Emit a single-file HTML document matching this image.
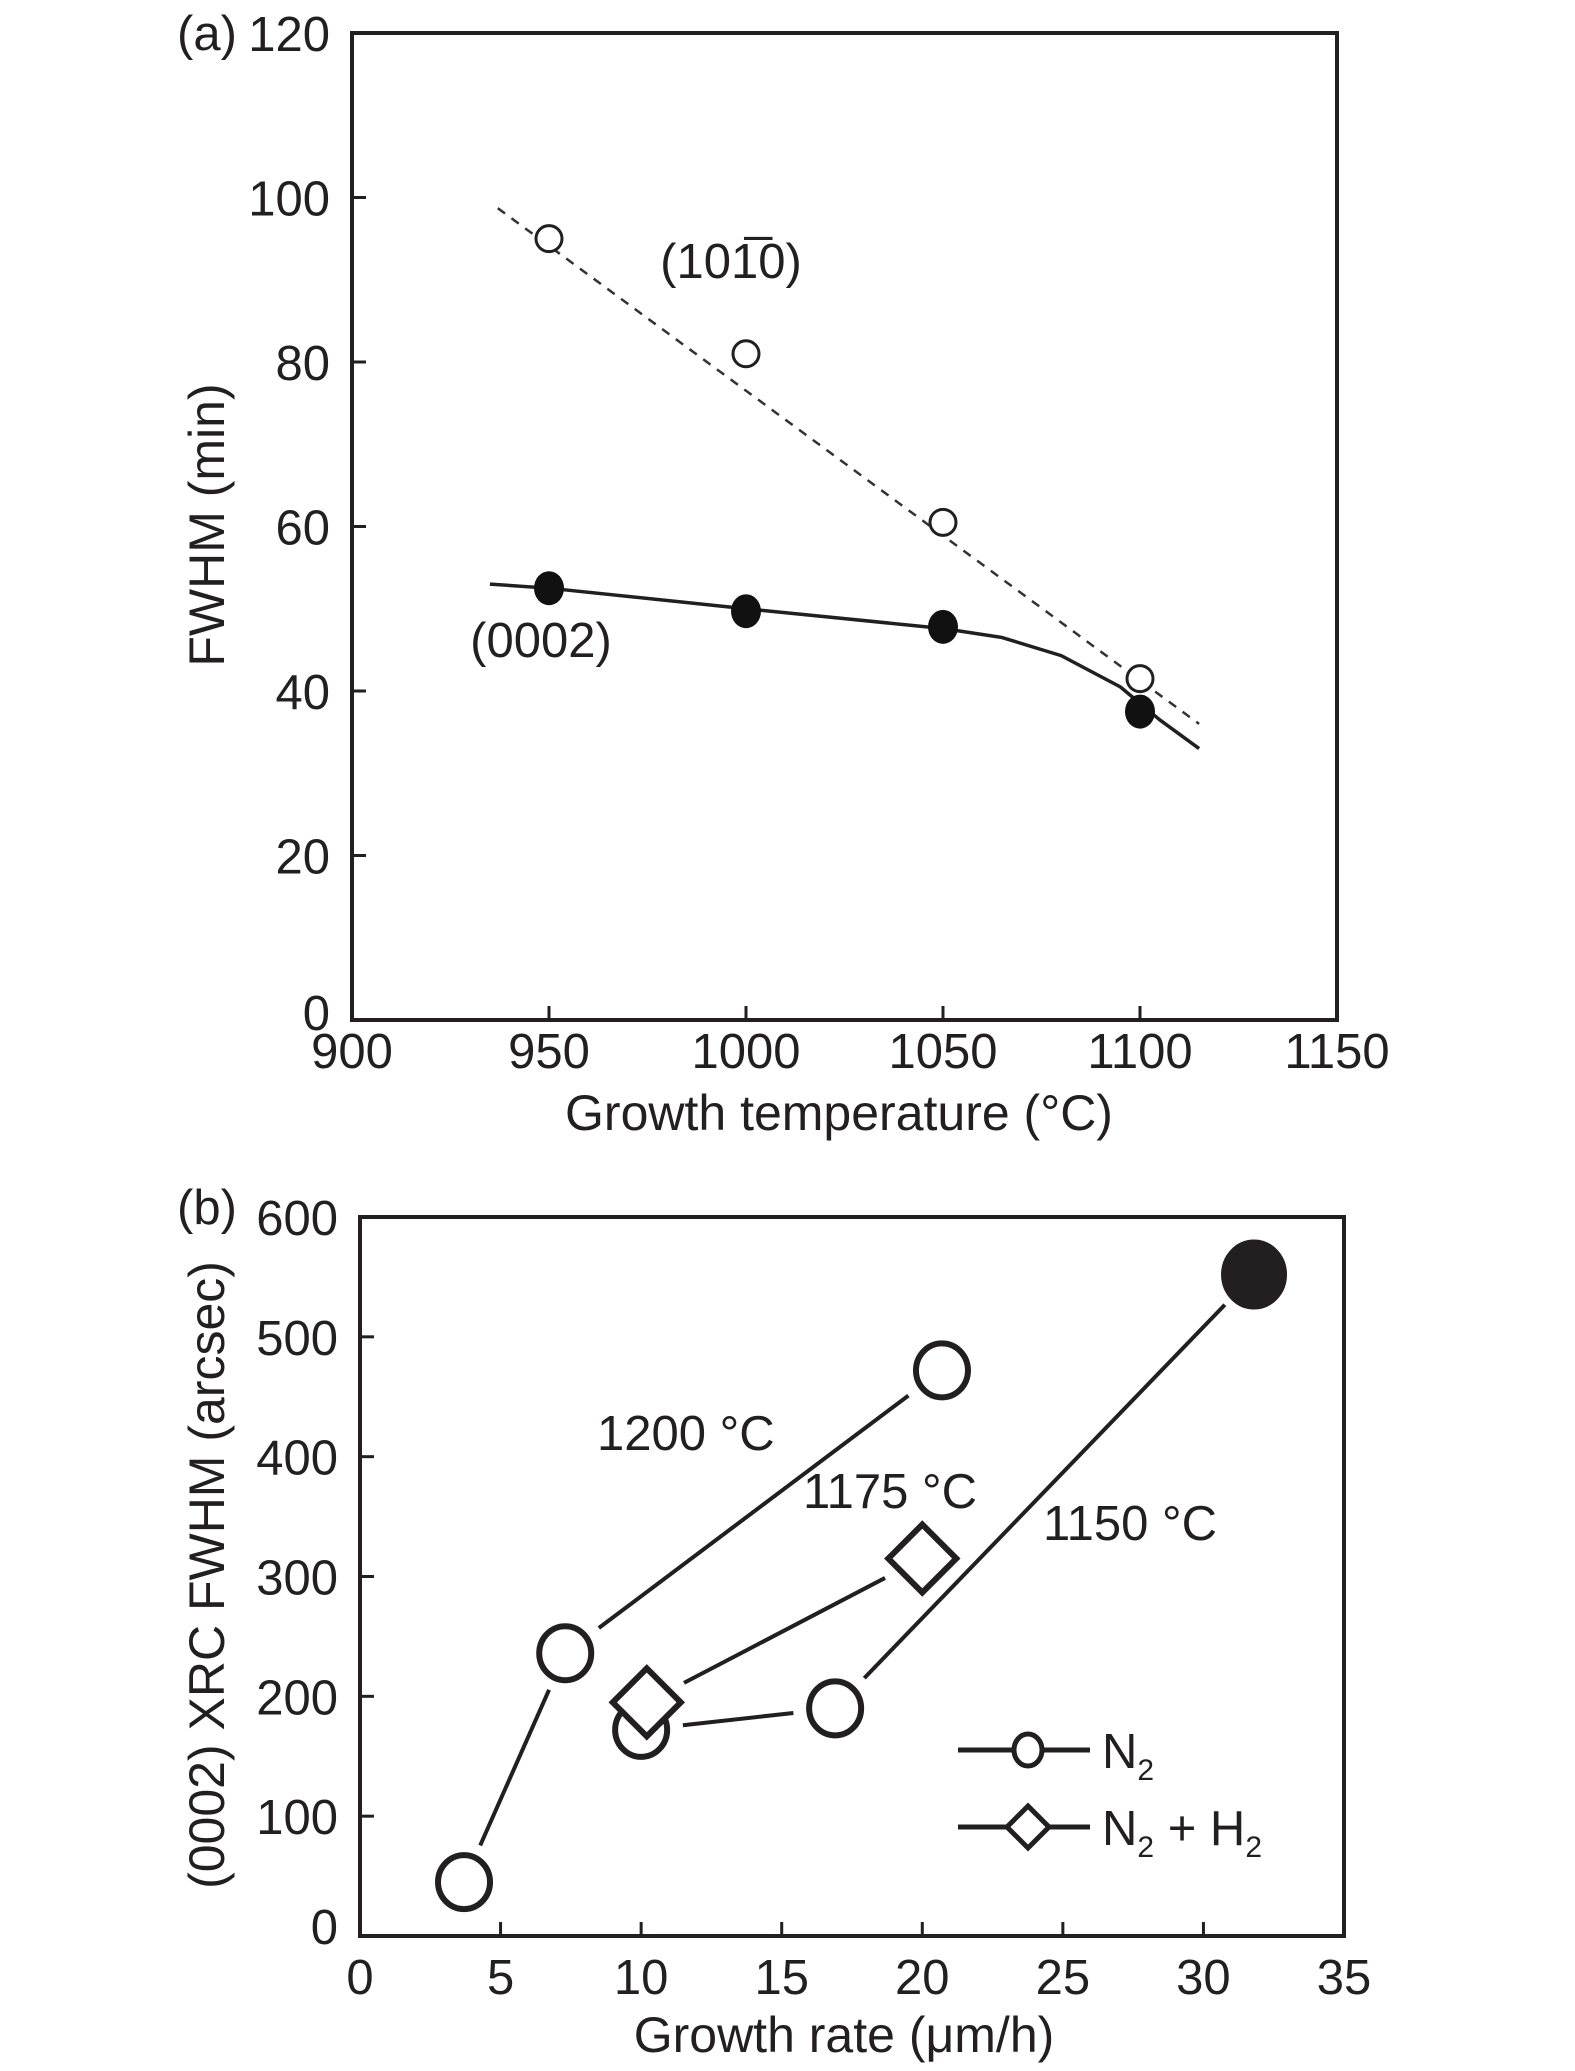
<!DOCTYPE html>
<html><head><meta charset="utf-8"><style>
html,body{margin:0;padding:0;background:#fff;}
svg{display:block;}
text{font-family:"Liberation Sans",sans-serif;fill:#231f20;}
</style></head><body>
<svg id="chart" width="1575" height="2071" viewBox="0 0 1575 2071" xmlns="http://www.w3.org/2000/svg">
<g id="pa"></g>
<g id="pb"></g>
</svg>
<script>
// Panel (a) data
const aXTicks = [900, 950, 1000, 1050, 1100, 1150];
const aYTicks = [0, 20, 40, 60, 80, 100, 120];
const aTemps = [950, 1000, 1050, 1100];
const aOpen = [95, 81, 60.5, 41.5];
const aFilled = [52.5, 49.7, 47.8, 37.5];
const aDashX = [937, 1115];
const aDashY = [98.7, 36];
const aSolidX = [935, 950, 1000, 1050, 1065, 1080, 1095, 1105, 1115];
const aSolidY = [53, 52.5, 50, 47.6, 46.5, 44.3, 40.5, 36.5, 33];
// Panel (b) data
const bXTicks = [0, 5, 10, 15, 20, 25, 30, 35];
const bYTicks = [0, 100, 200, 300, 400, 500, 600];
const bLowX = [3.7, 7.3];
const bLowY = [45, 236];
const b1200X = [7.3, 20.7];
const b1200Y = [236, 472];
const b1150X = [10, 16.9, 31.8];
const b1150Y = [172, 190, 552];
const b1175X = [10.2, 20];
const b1175Y = [195, 315];

const NS = "http://www.w3.org/2000/svg";
function mk(parent, tag, attrs, txt){
  const e = document.createElementNS(NS, tag);
  for (const k in attrs) e.setAttribute(k, attrs[k]);
  if (txt !== undefined) e.textContent = txt;
  parent.appendChild(e);
  return e;
}
// ---------- Panel A ----------
const pa = document.getElementById('pa');
const A = {x0:352, x1:1337, y0:1020, y1:33};
const ax = v => A.x0 + (v-900)/250*(A.x1-A.x0);
const ay = v => A.y0 - v/120*(A.y0-A.y1);
let r = mk(pa,'rect',{x:A.x0,y:A.y1,width:A.x1-A.x0,height:A.y0-A.y1,fill:'none',stroke:'#231f20','stroke-width':4});


aXTicks.forEach(t=>{
  let l = mk(pa,'line',{x1:ax(t),x2:ax(t),y1:A.y0,y2:A.y0-14,stroke:'#231f20','stroke-width':3});
  
  
  let tx = mk(pa,'text',{x:ax(t),y:1068,'font-size':49,'text-anchor':'middle'},String(t));
  
  
});
aYTicks.forEach(t=>{
  let l = mk(pa,'line',{x1:A.x0,x2:A.x0+14,y1:ay(t),y2:ay(t),stroke:'#231f20','stroke-width':3});
  
  
  let tx = mk(pa,'text',{x:330,y:(t===0?ay(t)+10:ay(t)+18),'font-size':49,'text-anchor':'end'},String(t));
  
  
});
let dash = mk(pa,'line',{x1:ax(aDashX[0]),y1:ay(aDashY[0]),x2:ax(aDashX[1]),y2:ay(aDashY[1]),stroke:'#333','stroke-width':2.5,'stroke-dasharray':'9 8'});


let pts = aSolidX.map((x,i)=>ax(x)+','+ay(aSolidY[i])).join(' ');
let sol = mk(pa,'polyline',{points:pts,fill:'none',stroke:'#231f20','stroke-width':3.5,'stroke-linejoin':'round'});


aTemps.forEach((t,i)=>{
  let c = mk(pa,'circle',{cx:ax(t),cy:ay(aOpen[i]),r:13,fill:'#fff',stroke:'#231f20','stroke-width':3});
  
  
  let f = mk(pa,'ellipse',{cx:ax(t),cy:ay(aFilled[i]),rx:15,ry:17,fill:'#111'});
  
  
});
let t1 = mk(pa,'text',{x:731,y:278,'font-size':49,'text-anchor':'middle'},'(101\u03050)');


let t2 = mk(pa,'text',{x:541,y:657,'font-size':49,'text-anchor':'middle'},'(0002)');


let pl = mk(pa,'text',{x:177,y:50,'font-size':49},'(a)');


let yt = mk(pa,'text',{x:0,y:0,'font-size':50,'text-anchor':'middle',transform:'translate(224,525) rotate(-90)'},'FWHM (min)');


let xt = mk(pa,'text',{x:839,y:1130,'font-size':50,'text-anchor':'middle'},'Growth temperature (\u00b0C)');



// ---------- Panel B ----------
const pb = document.getElementById('pb');
const B = {x0:360, x1:1344, y0:1936, y1:1217};
const bx = v => B.x0 + v/35*(B.x1-B.x0);
const by = v => B.y0 - v/600*(B.y0-B.y1);
r = mk(pb,'rect',{x:B.x0,y:B.y1,width:B.x1-B.x0,height:B.y0-B.y1,fill:'none',stroke:'#231f20','stroke-width':4});


bXTicks.forEach(t=>{
  let l = mk(pb,'line',{x1:bx(t),x2:bx(t),y1:B.y0,y2:B.y0-14,stroke:'#231f20','stroke-width':3});
  
  
  let tx = mk(pb,'text',{x:bx(t),y:1994,'font-size':49,'text-anchor':'middle'},String(t));
  
  
});
bYTicks.forEach(t=>{
  let l = mk(pb,'line',{x1:B.x0,x2:B.x0+14,y1:by(t),y2:by(t),stroke:'#231f20','stroke-width':3});
  
  
  let tx = mk(pb,'text',{x:338,y:(t===0?by(t)+8:by(t)+18),'font-size':49,'text-anchor':'end'},String(t));
  
  
});
function gapLine(xs, ys, name, g1, g2){
  for(let i=0;i<xs.length-1;i++){
    const X1=bx(xs[i]),Y1=by(ys[i]),X2=bx(xs[i+1]),Y2=by(ys[i+1]);
    const d=Math.hypot(X2-X1,Y2-Y1), ux=(X2-X1)/d, uy=(Y2-Y1)/d;
    let l = mk(pb,'line',{x1:X1+ux*g1,y1:Y1+uy*g1,x2:X2-ux*g2,y2:Y2-uy*g2,stroke:'#231f20','stroke-width':4});
    
    
  }
}
gapLine(bLowX,bLowY,'line-low',40,40);
gapLine(b1200X,b1200Y,'line-1200',42,42);
gapLine(b1150X,b1150Y,'line-1150',42,42);
gapLine(b1175X,b1175Y,'line-1175',42,42);
function circ(x,y,name,filled){
  let c = mk(pb,'ellipse',{cx:bx(x),cy:by(y),rx:filled?30:26,ry:filled?32:27,fill:filled?'#231f20':'none',stroke:'#231f20','stroke-width':6});
  
  
}
function diam(cx,cy,name,s){
  let p = mk(pb,'polygon',{points:`${cx},${cy-s} ${cx+s},${cy} ${cx},${cy+s} ${cx-s},${cy}`,fill:'#fff',stroke:'#231f20','stroke-width':6,'stroke-linejoin':'miter'});
  
  
}
circ(bLowX[0],bLowY[0],'point-n2');
circ(b1200X[0],b1200Y[0],'point-n2-1200');
circ(b1200X[1],b1200Y[1],'point-n2-1200');
circ(b1150X[0],b1150Y[0],'point-n2-1150');
circ(b1150X[1],b1150Y[1],'point-n2-1150');
circ(b1150X[2],b1150Y[2],'point-n2-1150-filled',true);
b1175X.forEach((x,i)=>diam(bx(x),by(b1175Y[i]),'point-n2h2-1175',34));
[['1200 \u00b0C',597,1450],['1175 \u00b0C',803,1508],['1150 \u00b0C',1043,1540]].forEach(a=>{
  let t = mk(pb,'text',{x:a[1],y:a[2],'font-size':49},a[0]);
  
  
});
// legend
let lg = mk(pb,'g',{});


let ll = mk(lg,'line',{x1:958,x2:1090,y1:1750,y2:1750,stroke:'#231f20','stroke-width':5});


let lc = mk(lg,'ellipse',{cx:1028,cy:1750,rx:14,ry:16,fill:'#fff',stroke:'#231f20','stroke-width':5});


let ltx = mk(lg,'text',{x:1102,y:1768,'font-size':49},'N');


mk(ltx,'tspan',{'font-size':30,dy:12},'2');
let ll2 = mk(lg,'line',{x1:958,x2:1090,y1:1827,y2:1827,stroke:'#231f20','stroke-width':5});


let ld = mk(lg,'polygon',{points:'1028,1806 1049,1827 1028,1848 1007,1827',fill:'#fff',stroke:'#231f20','stroke-width':5});


let ltx2 = mk(lg,'text',{x:1102,y:1845,'font-size':49},'N');


mk(ltx2,'tspan',{'font-size':30,dy:12},'2');
mk(ltx2,'tspan',{dy:-12},' + H');
mk(ltx2,'tspan',{'font-size':30,dy:12},'2');
pl = mk(pb,'text',{x:177,y:1224,'font-size':49},'(b)');


yt = mk(pb,'text',{x:0,y:0,'font-size':50,'text-anchor':'middle',transform:'translate(224,1575) rotate(-90)'},'(0002) XRC FWHM (arcsec)');


xt = mk(pb,'text',{x:844,y:2052,'font-size':50,'text-anchor':'middle'},'Growth rate (\u03bcm/h)');


</script>
</body></html>
